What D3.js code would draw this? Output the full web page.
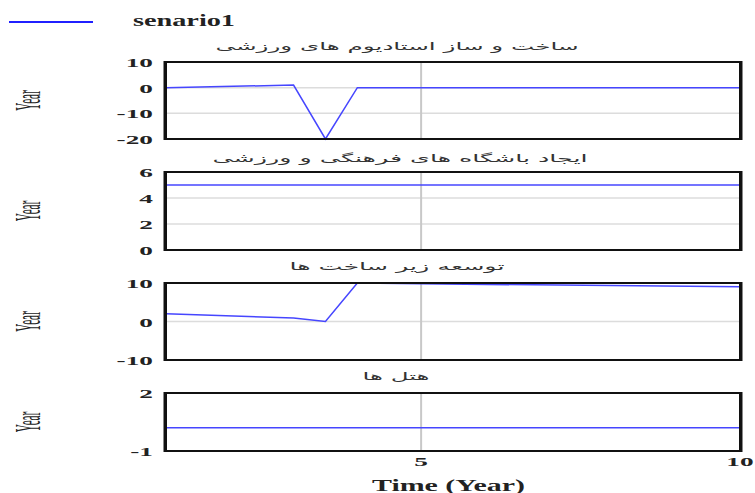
<!DOCTYPE html>
<html>
<head>
<meta charset="utf-8">
<script src="https://cdn.jsdelivr.net/npm/d3@7"></script>
<style>
  body { margin: 0; background: white; }
  svg { display: block; }
</style>
</head>
<body>
<div id="chart"></div>
<script>
// time points of the simulation run (Year)
var times    = [1, 3, 3.5, 4, 5, 10];
// one series per panel
var stadiums = [0, 1, -20, 0, 0, 0];
var clubs    = [5, 5, 5, 5, 5, 5];
var infra    = [2, 0.9, 0, 10, 9.8, 9];
var hotels   = [0.2, 0.2, 0.2, 0.2, 0.2, 0.2];

var titles   = ["ساخت و ساز استادیوم های ورزشی",
                "ایجاد باشگاه های فرهنگی و ورزشی",
                "توسعه زیر ساخت ها",
                "هتل ها"];
var yDomains = [[-20, 10], [0, 6], [-10, 10], [-1, 2]];
var yTicks   = [[10, 0, -10, -20], [6, 4, 2, 0], [10, 0, -10], [2, -1]];
var xTicks   = [5, 10];
var legendName = "senario1";

var width  = 755;
var height = 493;
var left = 166, right = 740;
var lineColor = "#4646ff";

// panel layout: top / bottom of each plot box, title position and width
var panels = [
  {top: 62,  bottom: 139, titleY: 50,  titleX: 397, titleW: 363, data: stadiums},
  {top: 172, bottom: 250, titleY: 162, titleX: 400, titleW: 375, data: clubs},
  {top: 283, bottom: 360, titleY: 270, titleX: 397, titleW: 215, data: infra},
  {top: 393, bottom: 451, titleY: 380, titleX: 396, titleW: 67,  data: hotels}
];

var x = d3.scaleLinear().domain([1, 10]).range([left, right]);

var svg = d3.select("#chart").append("svg")
  .attr("width", width)
  .attr("height", height);

svg.append("rect").attr("width", width).attr("height", height).style("fill", "white");

// legend
svg.append("line")
  .attr("x1", 9).attr("x2", 93).attr("y1", 22).attr("y2", 22)
  .style("stroke", "#2020ff").style("stroke-width", 2);
svg.append("text")
  .text(legendName)
  .attr("x", 133).attr("y", 26)
  .attr("textLength", 102).attr("lengthAdjust", "spacingAndGlyphs")
  .style("font-family", "Liberation Serif").style("font-weight", "bold")
  .style("font-size", "16px").style("fill", "#222");

panels.forEach(function(p, i) {
  var y = d3.scaleLinear().domain(yDomains[i]).range([p.bottom, p.top]);
  var g = svg.append("g");

  // title
  g.append("text")
    .text(titles[i])
    .attr("x", p.titleX).attr("y", p.titleY)
    .attr("text-anchor", "middle")
    .attr("textLength", p.titleW).attr("lengthAdjust", "spacingAndGlyphs")
    .style("font-family", "DejaVu Sans").style("font-size", "11px")
    .style("fill", "#333");

  // horizontal gridlines at the inner ticks
  g.selectAll(".hgrid")
    .data(yTicks[i].filter(function(d) { return d > yDomains[i][0] && d < yDomains[i][1]; }))
    .enter().append("line")
      .attr("x1", left).attr("x2", right)
      .attr("y1", function(d) { return y(d); })
      .attr("y2", function(d) { return y(d); })
      .style("stroke", "#dcdcdc").style("stroke-width", 1.5);

  // vertical gridline at year 5
  g.append("line")
    .attr("x1", x(5)).attr("x2", x(5))
    .attr("y1", p.top).attr("y2", p.bottom)
    .style("stroke", "#c8c8c8").style("stroke-width", 2);

  // series
  var line = d3.line()
    .x(function(d, k) { return x(times[k]); })
    .y(function(d) { return y(d); });
  g.append("path")
    .datum(p.data)
    .attr("d", line)
    .style("fill", "none")
    .style("stroke", lineColor)
    .style("stroke-width", 1.5);

  // frame: thin top/bottom, heavier sides
  g.append("rect")
    .attr("x", left).attr("y", p.top)
    .attr("width", right - left).attr("height", p.bottom - p.top)
    .style("fill", "none").style("stroke", "#111").style("stroke-width", 2);
  g.append("line").attr("x1", left - 1).attr("x2", left - 1)
    .attr("y1", p.top - 1).attr("y2", p.bottom + 1)
    .style("stroke", "#111").style("stroke-width", 3);
  g.append("line").attr("x1", right + 1).attr("x2", right + 1)
    .attr("y1", p.top - 1).attr("y2", p.bottom + 1)
    .style("stroke", "#111").style("stroke-width", 3);

  // y axis labels (plain hyphen for negatives, as in the original)
  var yAxis = d3.axisLeft(y).tickValues(yTicks[i]).tickSize(0)
    .tickFormat(function(d) { return String(d); });
  var ya = g.append("g").attr("transform", "translate(" + left + ",0)").call(yAxis);
  ya.select(".domain").remove();
  ya.selectAll("text")
    .attr("x", -6.2)
    .attr("dy", "0.35em")
    .attr("transform", "scale(2.1,1)")
    .style("font-family", "Liberation Serif").style("font-weight", "bold")
    .style("font-size", "13px").style("fill", "#222");

  // "Year" unit label
  g.append("text")
    .text("Year")
    .attr("text-anchor", "middle")
    .attr("transform", "translate(40," + ((p.top + p.bottom) / 2) + ") rotate(-90) scale(0.8,2.6)")
    .style("font-family", "Liberation Serif")
    .style("font-size", "14px").style("fill", "#222");
});

// x axis under the last panel
var xAxis = d3.axisBottom(x).tickValues(xTicks).tickSize(0).tickPadding(0);
var xa = svg.append("g").attr("transform", "translate(0,452)").call(xAxis);
xa.select(".domain").remove();
xa.selectAll("text")
  .attr("y", 14)
  .attr("dy", 0)
  .attr("transform", "scale(2.1,1)")
  .style("font-family", "Liberation Serif").style("font-weight", "bold")
  .style("font-size", "13px").style("fill", "#222");
xa.selectAll(".tick").attr("transform", function(d) { return "translate(" + x(d) + ",0)"; });

svg.append("text")
  .text("Time (Year)")
  .attr("x", 372).attr("y", 491)
  .attr("textLength", 153).attr("lengthAdjust", "spacingAndGlyphs")
  .style("font-family", "Liberation Serif").style("font-weight", "bold")
  .style("font-size", "16px").style("fill", "#222");
</script>
</body>
</html>
